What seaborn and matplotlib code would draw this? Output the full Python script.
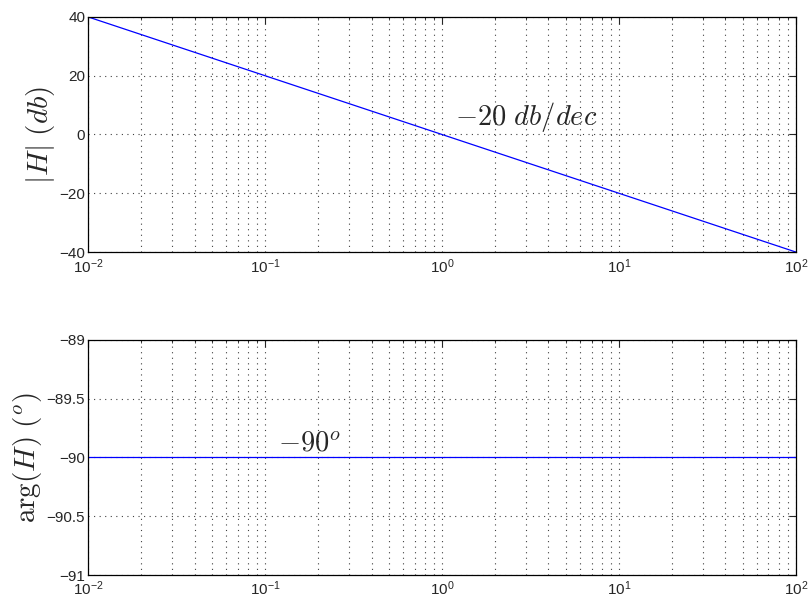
import numpy as np
import pandas as pd
import matplotlib
matplotlib.use("Agg")
import matplotlib.pyplot as plt
import seaborn as sns

# Bode plot of H = 1/(j w): two end points are enough for straight lines
freq = [0.01, 100]
magnitude_db = [40, -40]
phase_deg = [-90, -90]

mag_ticks = [-40, -20, 0, 20, 40]
phase_ticks = [-91, -90.5, -90, -89.5, -89]

sns.set_style("white")
plt.rcParams['font.family'] = ['Liberation Sans', 'DejaVu Sans']
plt.rcParams['mathtext.fontset'] = 'cm'

df = pd.DataFrame({"freq": freq, "mag": magnitude_db, "phase": phase_deg})

fig = plt.figure(figsize=(8.1, 6.03), dpi=100)
ax1 = fig.add_axes([0.1086, 0.582, 0.874, 0.390])
ax2 = fig.add_axes([0.1086, 0.0464, 0.874, 0.390])

sns.lineplot(data=df, x="freq", y="mag", ax=ax1, color="blue", linewidth=0.9)
sns.lineplot(data=df, x="freq", y="phase", ax=ax2, color="blue", linewidth=0.9)

dots = (0, (1, 4))
for ax, ticks in [(ax1, mag_ticks), (ax2, phase_ticks)]:
    ax.set_xscale("log")
    ax.set_xlim(freq[0], freq[-1])
    ax.set_ylim(ticks[0], ticks[-1])
    ax.set_yticks(ticks)
    ax.set_yticklabels([f"{t:g}".replace("-", "\u2212") for t in ticks])
    ax.set_xlabel("")
    ax.grid(True, which="major", linestyle=dots, color="0.25", linewidth=0.8)
    ax.grid(True, which="minor", axis="x", linestyle=dots, color="0.25", linewidth=0.8)
    ax.tick_params(which="both", direction="in", top=True, right=True, labelsize=11)
    ax.tick_params(axis="y", pad=2)
    ax.tick_params(which="major", length=5)
    ax.tick_params(which="minor", length=2.5)
    for sp in ax.spines.values():
        sp.set_visible(True)
        sp.set_color("black")
        sp.set_linewidth(0.9)

ax1.set_ylabel(r"$|H|\ (db)$", fontsize=21)
ax2.set_ylabel(r"$\arg(H)\ (^o)$", fontsize=21)
ax1.yaxis.set_label_coords(-0.044, 0.5)
ax2.yaxis.set_label_coords(-0.062, 0.5)

ax1.text(1.18, 6.0, r"$-20\ db/dec$", fontsize=20.5, va="center")
ax2.text(0.118, -89.88, r"$-90^o$", fontsize=20.5, va="center")

fig.savefig("out.png", dpi=100)
